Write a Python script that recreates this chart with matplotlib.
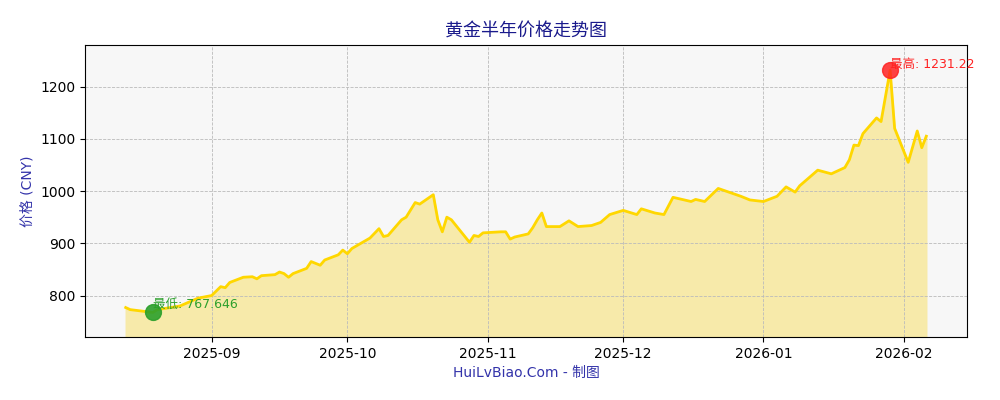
import matplotlib
matplotlib.use("Agg")
import matplotlib.pyplot as plt
import matplotlib.dates as mdates
import pandas as pd

plt.rcParams['font.family'] = ['DejaVu Sans', 'Noto Sans CJK SC']

dates = ["2025-08-13","2025-08-14","2025-08-19","2025-08-20","2025-08-25","2025-08-29",
"2025-09-01","2025-09-03","2025-09-04","2025-09-05","2025-09-08","2025-09-10","2025-09-11","2025-09-12",
"2025-09-15","2025-09-16","2025-09-17","2025-09-18","2025-09-19","2025-09-22","2025-09-23","2025-09-25",
"2025-09-26","2025-09-29","2025-09-30","2025-10-01","2025-10-02","2025-10-06","2025-10-08","2025-10-09",
"2025-10-10","2025-10-13","2025-10-14","2025-10-16","2025-10-17","2025-10-20","2025-10-21","2025-10-22",
"2025-10-23","2025-10-24","2025-10-28","2025-10-29","2025-10-30","2025-10-31","2025-11-04","2025-11-05",
"2025-11-06","2025-11-07","2025-11-10","2025-11-11","2025-11-12","2025-11-13","2025-11-14","2025-11-17",
"2025-11-19","2025-11-21","2025-11-24","2025-11-26","2025-11-28","2025-12-01","2025-12-04","2025-12-05",
"2025-12-08","2025-12-10","2025-12-12","2025-12-16","2025-12-17","2025-12-19","2025-12-22","2025-12-27",
"2025-12-29","2026-01-01","2026-01-04","2026-01-06","2026-01-08","2026-01-09","2026-01-13","2026-01-16",
"2026-01-19","2026-01-20","2026-01-21","2026-01-22","2026-01-23","2026-01-26","2026-01-27","2026-01-29",
"2026-01-30","2026-02-02","2026-02-04","2026-02-05","2026-02-06"]
prices = [777,773,767.646,773,780,795,
800,817,815,825,835,836,832,838,
840,845,842,835,842,852,865,858,
868,878,887,880,890,910,928,913,
915,945,950,978,975,993,945,922,
950,945,902,915,913,920,922,922,
908,912,918,930,945,958,932,932,
943,932,934,940,955,963,955,966,
958,955,988,980,984,980,1005,990,
983,980,990,1008,998,1010,1040,1033,
1045,1060,1088,1087,1110,1140,1133,1231.22,
1120,1055,1115,1083,1105]

x = pd.to_datetime(dates)
fig, ax = plt.subplots(figsize=(10, 4), dpi=100)
fig.subplots_adjust(left=0.085, right=0.967, top=0.888, bottom=0.158)
ax.set_facecolor('#f7f7f7')
ax.set_ylim(721, 1280)
ax.set_xlim(pd.Timestamp("2025-08-04"), pd.Timestamp("2026-02-15"))
ax.fill_between(x, prices, 721, color='#f7eaa6', alpha=0.95)
ax.plot(x, prices, color='#FFD700', lw=2)
ax.grid(True, ls='--', color='#bbbbbb', lw=0.6)

imin = prices.index(min(prices)); imax = prices.index(max(prices))
ax.scatter([x[imin]], [prices[imin]], s=130, color='#2ca02c', alpha=0.9, zorder=5)
ax.scatter([x[imax]], [prices[imax]], s=130, color='#ff2222', alpha=0.85, zorder=5)
ax.annotate(f"最低: {prices[imin]}", (x[imin], prices[imin]), xytext=(0, 3), textcoords='offset points', color='#2ca02c', fontsize=9)
ax.annotate(f"最高: {prices[imax]}", (x[imax], prices[imax]), xytext=(0, 2), textcoords='offset points', color='#ff2222', fontsize=9)

ax.xaxis.set_major_locator(mdates.MonthLocator(bymonth=[9,10,11,12,1,2]))
ax.xaxis.set_major_formatter(mdates.DateFormatter('%Y-%m'))
ax.set_title("黄金半年价格走势图", color='#1a1a8c', fontsize=13)
ax.set_ylabel("价格 (CNY)", color='#3333aa', fontsize=10)
ax.set_xlabel("HuiLvBiao.Com - 制图", color='#3333aa', fontsize=10)
fig.savefig("out.png")
